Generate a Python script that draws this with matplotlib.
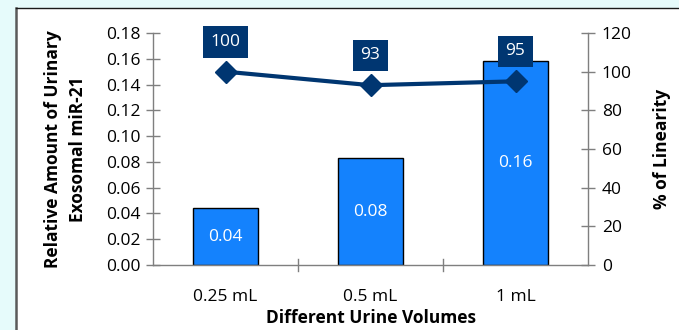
import matplotlib
matplotlib.use("Agg")
import matplotlib.pyplot as plt
from matplotlib.lines import Line2D
from matplotlib.patches import Rectangle

plt.rcParams['font.family'] = ['Open Sans', 'DejaVu Sans']

# Data
volumes = ["0.25 mL", "0.5 mL", "1 mL"]
relative_amount = [0.044, 0.083, 0.158]
linearity = [100, 93, 95]

BAR_COLOR = "#1482fd"
LINE_COLOR = "#003671"
AXIS_COLOR = "#7f7f7f"
FS = 12.5

fig = plt.figure(figsize=(6.79, 3.30), dpi=100)
fig.patch.set_facecolor("#e6fbfb")

# White panel with border on the left and top
px0 = 15.5 / 679
py1 = 1 - 7.5 / 330
fig.patches.append(Rectangle((px0, 0), 1 - px0, py1, transform=fig.transFigure,
                             facecolor="white", edgecolor="none", zorder=-3))
fig.lines.append(Line2D([px0, px0], [0, py1], transform=fig.transFigure,
                        color="#5a5a5a", lw=1.8, zorder=-2))
fig.lines.append(Line2D([px0, 1], [py1, py1], transform=fig.transFigure,
                        color="#1a1a1a", lw=1.0, zorder=-2))

ax = fig.add_axes([153 / 679, 65 / 330, 435 / 679, 232 / 330])
ax.set_facecolor("none")
x = list(range(len(volumes)))

bars = ax.bar(x, relative_amount, width=0.455, color=BAR_COLOR,
              edgecolor="black", linewidth=1.0, zorder=2)
for xi, v in zip(x, relative_amount):
    ax.text(xi, v / 2, f"{v:.2f}", ha="center", va="center",
            color="white", fontsize=FS, zorder=3)

ax.set_xlim(-0.5, len(volumes) - 0.5)
ax.set_ylim(0, 0.18)
ax.set_yticks([i * 0.02 for i in range(10)])
ax.set_yticklabels([f"{i * 0.02:.2f}" for i in range(10)])
ax.set_xticks(x)
ax.set_xticklabels(volumes)
ax.tick_params(axis="x", length=0, pad=17, labelsize=FS)
ax.tick_params(axis="y", direction="inout", length=10, width=1,
               color=AXIS_COLOR, labelsize=FS, pad=4)
# category separators on the baseline
for b in [0.5, 1.5]:
    ax.plot([b, b], [-0.005, 0.005], color=AXIS_COLOR, lw=1, clip_on=False,
            zorder=1)

ax.spines["top"].set_visible(False)
for s in ["left", "right", "bottom"]:
    ax.spines[s].set_color(AXIS_COLOR)
    ax.spines[s].set_linewidth(1.0)

ax.set_xlabel("Different Urine Volumes", fontsize=FS, fontweight="bold",
              labelpad=3)
ax.set_ylabel("Relative Amount of Urinary\nExosomal miR-21", fontsize=FS,
              fontweight="bold", labelpad=14, linespacing=1.45)

ax2 = ax.twinx()
ax2.set_ylim(0, 120)
ax2.set_yticks(range(0, 121, 20))
ax2.tick_params(axis="y", direction="inout", length=10, width=1,
                color=AXIS_COLOR, labelsize=FS, pad=5)
for s in ax2.spines.values():
    s.set_visible(False)
ax2.plot(x, linearity, color=LINE_COLOR, lw=3, marker="D", markersize=11,
         zorder=4)
for xi, v in zip(x, linearity):
    ax2.annotate(f"{v}", (xi, v), xytext=(0, 21.5), textcoords="offset points",
                 ha="center", va="center", color="white", fontsize=FS,
                 bbox=dict(boxstyle="square,pad=0.45", fc=LINE_COLOR,
                           ec="none"), zorder=5)
ax2.set_ylabel("% of Linearity", fontsize=FS, fontweight="bold", labelpad=15)

fig.savefig("out.png", dpi=100, facecolor=fig.get_facecolor())
